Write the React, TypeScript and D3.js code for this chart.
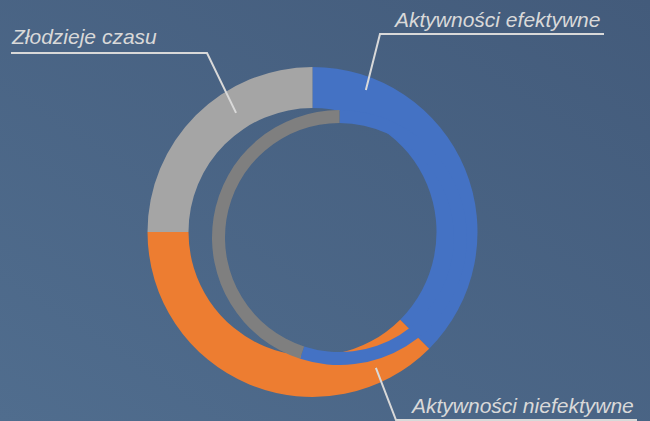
import React from "react";
import * as d3 from "d3";

// ---- data ----
const categories = ["Aktywności efektywne", "Aktywności niefektywne", "Złodzieje czasu"];
const outerValues = [37.5, 37.5, 25];
const innerValues = [55, 0, 45];
const outerColors = ["#4472C4", "#ED7D31", "#A5A5A5"];
const innerColors = ["#4472C4", "#ED7D31", "#7F7F7F"];

// label layout: anchor (polar around outer centre), elbow, line end, text position
const labelAnchorAngle = [20.6, 155, 327.3];
const labelAnchorRadius = [151.7, 150, 141.5];
const labelElbow: [number, number][] = [[380, 34], [396, 420], [207, 53]];
const labelLineEnd: [number, number][] = [[604, 34], [637, 420], [11, 53]];
const labelTextPos: [number, number][] = [[395, 27], [412, 413], [12, 44]];

const W = 650;
const H = 421;
const CX = 312.5;
const CY = 232;
const OUTER_R0 = 124;
const OUTER_R1 = 165;
const INNER_DX = 27;
const INNER_DY = 5.5;
const INNER_R0 = 114.5;
const INNER_R1 = 127.5;

export default function App() {
  const pie = d3
    .pie<number>()
    .sort(null)
    .value((d) => d)
    .startAngle(0)
    .endAngle(2 * Math.PI);

  const outerArc = d3.arc<d3.PieArcDatum<number>>().innerRadius(OUTER_R0).outerRadius(OUTER_R1);
  const innerArc = d3.arc<d3.PieArcDatum<number>>().innerRadius(INNER_R0).outerRadius(INNER_R1);

  const outerSlices = pie(outerValues);
  const innerSlices = pie(innerValues);

  const anchor = (i: number): [number, number] => {
    const a = (labelAnchorAngle[i] * Math.PI) / 180;
    const r = labelAnchorRadius[i];
    return [CX + r * Math.sin(a), CY - r * Math.cos(a)];
  };

  const line = d3.line();

  return (
    <div style={{ position: "fixed", left: 0, top: 0 }}>
      <svg width={W} height={H} style={{ display: "block" }}>
        <defs>
          <linearGradient id="bg" x1="0" y1="1" x2="1" y2="0">
            <stop offset="0" stopColor="#506d8e" />
            <stop offset="1" stopColor="#435b7b" />
          </linearGradient>
        </defs>
        <rect x={0} y={0} width={W} height={H} fill="url(#bg)" />
        <g transform={`translate(${CX},${CY})`}>
          {outerSlices.map((s, i) => (
            <path key={"o" + i} d={outerArc(s) || ""} fill={outerColors[i]} />
          ))}
        </g>
        <g transform={`translate(${CX + INNER_DX},${CY + INNER_DY})`}>
          {innerSlices.map((s, i) =>
            s.value > 0 ? <path key={"i" + i} d={innerArc(s) || ""} fill={innerColors[i]} /> : null
          )}
        </g>
        {categories.map((c, i) => (
          <g key={"l" + i}>
            <path
              d={line([anchor(i), labelElbow[i], labelLineEnd[i]]) || ""}
              fill="none"
              stroke="#d9d9d9"
              strokeWidth={2}
            />
            <text
              x={labelTextPos[i][0]}
              y={labelTextPos[i][1]}
              fill="#d9d9d9"
              fontFamily="'Liberation Sans', Arial, sans-serif"
              fontStyle="italic"
              fontSize={21}
            >
              {c}
            </text>
          </g>
        ))}
      </svg>
    </div>
  );
}
